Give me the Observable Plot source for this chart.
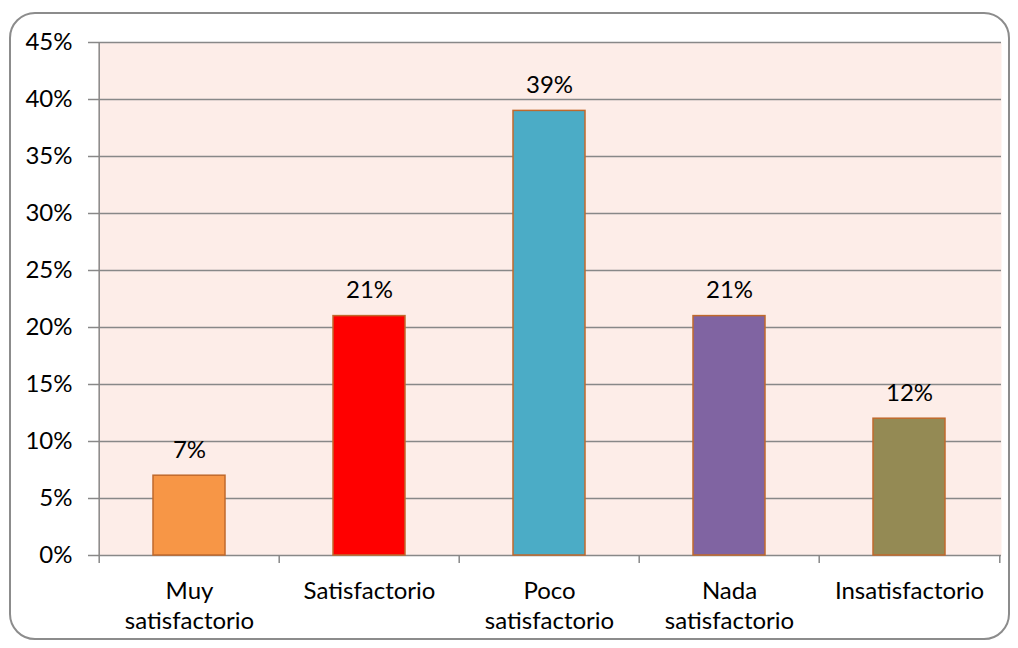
<!DOCTYPE html>
<html>
<head>
<meta charset="utf-8">
<script src="https://cdn.jsdelivr.net/npm/d3@7"></script>
<script src="https://cdn.jsdelivr.net/npm/@observablehq/plot@0.6"></script>
<style>
  html, body { margin: 0; padding: 0; background: #fff; }
  #wrap { position: relative; width: 1018px; height: 648px; }
  #border { position: absolute; left: 9px; top: 12px; width: 1001px; height: 628px;
            border: 2px solid #8c8c8c; border-radius: 26px; box-sizing: border-box; pointer-events: none; }
</style>
</head>
<body>
<div id="wrap"><div id="border"></div></div>
<script>
const categories = ["Muy satisfactorio", "Satisfactorio", "Poco satisfactorio", "Nada satisfactorio", "Insatisfactorio"];
const tickLabels = ["Muy\nsatisfactorio", "Satisfactorio", "Poco\nsatisfactorio", "Nada\nsatisfactorio", "Insatisfactorio"];
const values = [7, 21, 39, 21, 12];
const yTicks = [0, 5, 10, 15, 20, 25, 30, 35, 40, 45];

const palette = ["#F79646", "#FF0000", "#4BACC6", "#8064A2", "#948A54"];
const data = categories.map((c, i) => ({category: c, value: values[i]}));

const W = 1018, H = 648;
const mL = 98, mR = 17, mT = 42, mB = 93;
const step = (W - mL - mR) / categories.length;
const font = "Lato, 'Liberation Sans', sans-serif";

const chart = Plot.plot({
  width: W, height: H,
  marginLeft: mL, marginRight: mR, marginTop: mT, marginBottom: mB,
  style: {fontFamily: font, fontSize: "24px", color: "#000", background: "transparent"},
  x: {domain: categories, paddingInner: 0.6, paddingOuter: 0.3, label: null},
  y: {domain: [0, 45], label: null},
  color: {domain: categories, range: palette},
  marks: [
    Plot.frame({fill: "#FDEDE8", stroke: null}),
    Plot.gridY(yTicks, {stroke: "#888", strokeOpacity: 1, strokeWidth: 1.5}),
    Plot.ruleX([categories[0]], {x: d => d, dx: -step / 2, y1: 0, y2: 45, stroke: "#888", strokeWidth: 1.5}),
    Plot.axisY(yTicks, {tickFormat: d => d + "%", tickSize: 10, tickPadding: 16, stroke: "#888", strokeWidth: 1.5, fill: "#000", fontSize: 24}),
    Plot.ruleX(categories, {x: d => d, dx: -step / 2, y1: 0, y2: 0, insetBottom: -8, stroke: "#888", strokeWidth: 1.5}),
    Plot.ruleX([categories[categories.length - 1]], {x: d => d, dx: step / 2, y1: 0, y2: 0, insetBottom: -8, stroke: "#888", strokeWidth: 1.5}),
    Plot.barY(data, {x: "category", y: "value", fill: "category", stroke: "#C0692C", strokeWidth: 1.5}),
    Plot.text(data, {x: "category", y: "value", text: d => d.value + "%", lineAnchor: "bottom", dy: -18, fill: "#000", fontSize: 24}),
    Plot.axisX({tickSize: 0, tickPadding: 22, tickFormat: (d, i) => tickLabels[i], lineHeight: 1.25, fill: "#000", fontSize: 24})
  ]
});

document.getElementById("wrap").appendChild(chart);
</script>
</body>
</html>
